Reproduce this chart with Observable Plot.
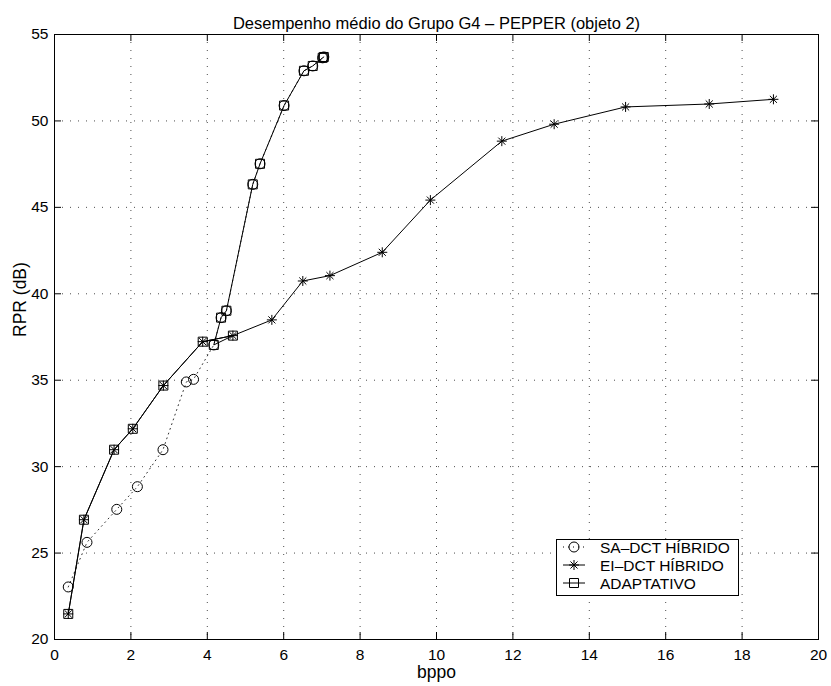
<!DOCTYPE html>
<html><head><meta charset="utf-8">
<script src="https://cdn.jsdelivr.net/npm/d3@7"></script>
<script src="https://cdn.jsdelivr.net/npm/@observablehq/plot@0.6"></script>
<style>
body{margin:0;background:#fff;}
#wrap{position:relative;width:831px;height:686px;font-family:"Liberation Sans",Arial,sans-serif;}
#legend{position:absolute;left:556px;top:539px;}
</style></head><body><div id="wrap"></div>
<script>
const title = "Desempenho médio do Grupo G4 – PEPPER (objeto 2)";
const xLabel = "bppo";
const yLabel = "RPR (dB)";
const xTicks = [0, 2, 4, 6, 8, 10, 12, 14, 16, 18, 20];
const yTicks = [20, 25, 30, 35, 40, 45, 50, 55];
const seriesNames = ["SA–DCT HÍBRIDO", "EI–DCT HÍBRIDO", "ADAPTATIVO"];

// SA-DCT HÍBRIDO (circles, dotted)
const saX = [0.36, 0.85, 1.63, 2.17, 2.84, 3.45, 3.64, 4.17, 4.36, 4.50, 5.19, 5.38, 6.01, 6.53, 6.76, 7.02, 7.05];
const saY = [23.04, 25.62, 27.53, 28.84, 30.98, 34.90, 35.05, 37.04, 38.62, 39.02, 46.33, 47.52, 50.89, 52.90, 53.18, 53.65, 53.70];
// EI-DCT HÍBRIDO (asterisks, solid)
const eiX = [0.36, 0.77, 1.56, 2.05, 2.85, 3.88, 4.67, 5.69, 6.50, 7.21, 8.58, 9.84, 11.71, 13.08, 14.95, 17.14, 18.82];
const eiY = [21.48, 26.93, 30.98, 32.19, 34.69, 37.23, 37.58, 38.49, 40.74, 41.05, 42.40, 45.42, 48.83, 49.81, 50.81, 50.98, 51.25];
// ADAPTATIVO (squares, solid)
const adX = [0.36, 0.77, 1.56, 2.05, 2.85, 3.88, 4.67, 4.17, 4.36, 4.50, 5.19, 5.38, 6.01, 6.53, 6.76, 7.02, 7.05];
const adY = [21.48, 26.93, 30.98, 32.19, 34.69, 37.23, 37.58, 37.04, 38.62, 39.02, 46.33, 47.52, 50.89, 52.90, 53.18, 53.65, 53.70];

const W = 831, H = 686, mL = 54, mR = 13, mT = 34, mB = 47;
const frameW = W - mL - mR, frameH = H - mT - mB, tickLen = 7;

const symCircle = {draw(ctx, size) { const r = Math.sqrt(size / Math.PI); ctx.moveTo(r, 0); ctx.arc(0, 0, r, 0, 2 * Math.PI); }};
const symSquare = {draw(ctx, size) { const r = Math.sqrt(size / Math.PI); ctx.moveTo(-r, -r); ctx.lineTo(r, -r); ctx.lineTo(r, r); ctx.lineTo(-r, r); ctx.closePath(); }};
const symStar = {draw(ctx, size) { const r = Math.sqrt(size / Math.PI), d = r * 0.7071;
  ctx.moveTo(-r, 0); ctx.lineTo(r, 0); ctx.moveTo(0, -r); ctx.lineTo(0, r);
  ctx.moveTo(-d, -d); ctx.lineTo(d, d); ctx.moveTo(-d, d); ctx.lineTo(d, -d); }};

const toRows = (xs, ys) => xs.map((x, i) => ({x, y: ys[i]}));
const sa = toRows(saX, saY), ei = toRows(eiX, eiY), ad = toRows(adX, adY);

const gridStyle = {stroke: "#000", strokeOpacity: 0.7, strokeWidth: 1, strokeDasharray: "1,7"};

const chart = Plot.plot({
  width: W, height: H,
  marginLeft: mL, marginRight: mR, marginTop: mT, marginBottom: mB,
  style: {fontSize: "15.5px", fontFamily: "Liberation Sans, Arial, sans-serif", color: "#000", background: "#fff"},
  x: {domain: [0, 20], ticks: xTicks, tickSize: 0, tickPadding: 9, label: null},
  y: {domain: [20, 55], ticks: yTicks, tickSize: 0, tickPadding: 6, label: null},
  marks: [
    Plot.ruleX(xTicks, {x: d => d, ...gridStyle}),
    Plot.ruleY(yTicks, {y: d => d, ...gridStyle}),
    Plot.line(sa, {x: "x", y: "y", stroke: "#000", strokeOpacity: 0.8, strokeWidth: 1, strokeDasharray: "1,4"}),
    Plot.line(ei, {x: "x", y: "y", stroke: "#000", strokeWidth: 1}),
    Plot.line(ad, {x: "x", y: "y", stroke: "#000", strokeWidth: 1}),
    Plot.dot(sa, {x: "x", y: "y", symbol: symCircle, r: 5, stroke: "#000", fill: "none", strokeWidth: 1}),
    Plot.dot(ei, {x: "x", y: "y", symbol: symStar, r: 5, stroke: "#000", fill: "none", strokeWidth: 1}),
    Plot.dot(ad, {x: "x", y: "y", symbol: symSquare, r: 4.5, stroke: "#000", fill: "none", strokeWidth: 1}),
    Plot.frame({stroke: "#000", strokeWidth: 1}),
    Plot.ruleX(xTicks, {x: d => d, insetTop: frameH - tickLen, stroke: "#000"}),
    Plot.ruleX(xTicks, {x: d => d, insetBottom: frameH - tickLen, stroke: "#000"}),
    Plot.ruleY(yTicks, {y: d => d, insetRight: frameW - tickLen, stroke: "#000"}),
    Plot.ruleY(yTicks, {y: d => d, insetLeft: frameW - tickLen, stroke: "#000"}),
    Plot.text([title], {text: d => d, frameAnchor: "top", dy: -17, fontSize: 16.5, fill: "#000"}),
    Plot.text([xLabel], {text: d => d, frameAnchor: "bottom", dy: 38, fontSize: 17.5, fill: "#000"}),
    Plot.text([yLabel], {text: d => d, frameAnchor: "left", dx: -34, rotate: -90, fontSize: 17.5, fill: "#000"})
  ]
});
const wrap = document.getElementById("wrap");
wrap.appendChild(chart);

// Legend
const syms = [symCircle, symStar, symSquare];
const dashes = ["1,4", null, null];
const sizes = [25 * Math.PI, 25 * Math.PI, 20.25 * Math.PI];
const lw = 183, lh = 57;
const leg = d3.select(wrap).append("svg").attr("id", "legend").attr("width", lw).attr("height", lh)
  .style("font-family", "Liberation Sans, Arial, sans-serif");
leg.append("rect").attr("x", 0.5).attr("y", 0.5).attr("width", lw - 1).attr("height", lh - 1)
  .attr("fill", "#fff").attr("stroke", "#000");
seriesNames.forEach((name, i) => {
  const cy = 8 + i * 18;
  const g = leg.append("g");
  g.append("line").attr("x1", 7).attr("x2", 29).attr("y1", cy).attr("y2", cy)
    .attr("stroke", "#000").attr("stroke-dasharray", dashes[i]);
  g.append("path").attr("d", d3.symbol(syms[i], sizes[i])()).attr("transform", `translate(18,${cy})`)
    .attr("fill", "none").attr("stroke", "#000");
  g.append("text").attr("x", 44).attr("y", cy).attr("dominant-baseline", "central")
    .attr("font-size", 15.5).attr("fill", "#000").text(name);
});
</script></body></html>
